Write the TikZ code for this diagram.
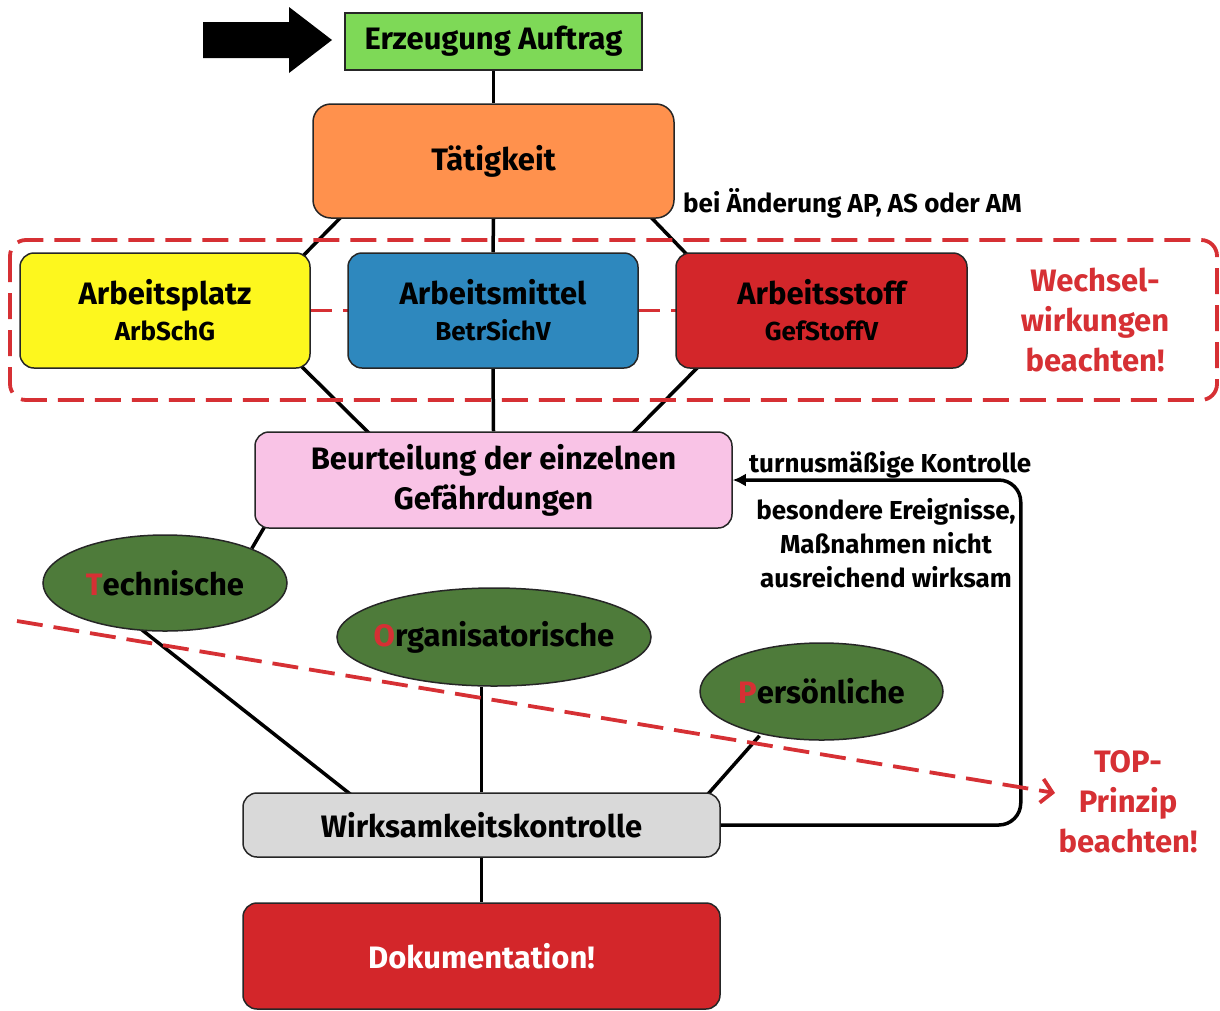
\documentclass[tikz,border=0pt]{standalone}
\usepackage{fontspec}
\setmainfont{Fira Sans}
\usetikzlibrary{shapes.geometric,arrows.meta,calc,backgrounds}
\definecolor{cgreen}{HTML}{7ED957}
\definecolor{corange}{HTML}{FF914D}
\definecolor{cyellow}{HTML}{FDF71E}
\definecolor{cblue}{HTML}{2E88BE}
\definecolor{cred}{HTML}{D3262A}
\definecolor{cpink}{HTML}{F9C3E6}
\definecolor{cdgreen}{HTML}{4E7B3A}
\definecolor{cgrey}{HTML}{D9D9D9}
\definecolor{tred}{HTML}{D63034}
\newcommand{\fsA}{\fontsize{31}{40}\selectfont\bfseries}
\newcommand{\fsB}{\fontsize{26}{34}\selectfont\bfseries}
\newcommand{\ovaltext}[2]{\makebox[0pt][c]{{\color{tred}#1}#2}}
\tikzset{
  box/.style={draw=black!85, line width=1.5pt, rounded corners=14pt, inner sep=0pt, align=center, font=\fsA},
  oval/.style={ellipse, draw=black!85, line width=1.5pt, fill=cdgreen, inner sep=0pt, font=\fsA},
  conn/.style={line width=3.5pt, black},
  reddash/.style={draw=tred, line width=3.8pt, dash pattern=on 26pt off 11pt},
  lbl/.style={font=\fsB, align=center, inner sep=0pt},
  redlbl/.style={font=\fsA, text=tred, align=center, inner sep=0pt}
}
\begin{document}
\begin{tikzpicture}[x=1pt,y=-1pt]
\useasboundingbox (0,0) rectangle (1220,1010);
% big arrow
\fill[black] (203,22) -- (289,22) -- (289,7) -- (332,40) -- (289,73) -- (289,58) -- (203,58) -- cycle;
% nodes
\node[box, rounded corners=0pt, fill=cgreen, minimum width=297pt, minimum height=57pt] (ea) at (493.5,41.5) {Erzeugung Auftrag};
\node[box, rounded corners=18pt, fill=corange, minimum width=361pt, minimum height=114pt] (t) at (493.5,161) {Tätigkeit};
\node[box, fill=cyellow, minimum width=290pt, minimum height=115pt] (ap) at (165,310.5) {Arbeitsplatz\\[-4pt]{\fsB ArbSchG}};
\node[box, fill=cblue, minimum width=290pt, minimum height=115pt] (am) at (493,310.5) {Arbeitsmittel\\[-4pt]{\fsB BetrSichV}};
\node[box, fill=cred, minimum width=291pt, minimum height=115pt] (as) at (821.5,310.5) {Arbeitsstoff\\[-4pt]{\fsB GefStoffV}};
\node[box, fill=cpink, minimum width=477pt, minimum height=96pt] (bf) at (493.5,480) {Beurteilung der einzelnen\\Gefährdungen};
\node[oval, minimum width=244pt, minimum height=96pt] (tech) at (165,583) {\ovaltext{T}{echnische}};
\node[oval, minimum width=314pt, minimum height=98pt] (org) at (494,637) {\ovaltext{O}{rganisatorische}};
\node[oval, minimum width=243pt, minimum height=97pt] (pers) at (821.5,691.5) {\ovaltext{P}{ersönliche}};
\node[box, fill=cgrey, minimum width=477pt, minimum height=64pt] (wk) at (481.5,825) {Wirksamkeitskontrolle};
\node[box, fill=cred, text=white, minimum width=477pt, minimum height=106pt] (doc) at (481.5,956) {Dokumentation!};
% labels
\node[lbl, anchor=west] (lab1) at (683,203) {bei Änderung AP, AS oder AM};
\node[lbl, anchor=west] (lab2) at (749,465) {turnusmäßige Kontrolle};
\node[lbl] (lab3) at (886,543) {besondere Ereignisse,\\Maßnahmen nicht\\ausreichend wirksam};
\node[redlbl] (lab4) at (1095,320) {Wechsel-\\wirkungen\\beachten!};
\node[redlbl] (lab5) at (1128,802) {TOP-\\Prinzip\\beachten!};
% connectors (behind nodes)
\begin{scope}[on background layer]
\draw[conn] (ea.south) -- (t.north);
\draw[conn] ($(t.south west)+(37,-10)$) -- ($(ap.north east)+(-15,11)$);
\draw[conn] (t.south) -- (am.north);
\draw[conn] ($(t.south east)+(-32,-10)$) -- ($(as.north west)+(22,13)$);
\draw[conn] ($(ap.south east)+(-17,-10)$) -- ($(bf.north west)+(123,10)$);
\draw[conn] (am.south) -- (bf.north);
\draw[conn] ($(as.south west)+(31,-10)$) -- ($(bf.north east)+(-108,10)$);
\draw[conn] ($(bf.south west)+(15,-10)$) -- (tech.north east);
\draw[conn] ($(tech.south)+(-27,-5)$) -- ($(wk.north west)+(112,5)$);
\draw[conn] (wk.north) -- (wk.north |- org.south);
\draw[conn] ($(pers.south)+(-62,-5)$) -- ($(wk.north east)+(-20,10)$);
\draw[conn] (wk.south) -- (doc.north);
\draw[reddash] ($(ap.east)+(-5,0)$) -- ($(am.west)+(5,0)$);
\draw[reddash] ($(am.east)+(-5,0)$) -- ($(as.west)+(5,0)$);
\end{scope}
% Wechselwirkungen frame
\draw[reddash, rounded corners=16pt] (10,240) rectangle (1217,400);
% feedback loop
\draw[line width=3.5pt, rounded corners=22pt, -{Latex[length=13pt,width=13pt]}] (wk.east) -| ($(bf.east)+(288,0)$) -- (bf.east);
% TOP line
\coordinate (topA) at (17,621);
\coordinate (topB) at (1055,793);
\draw[reddash, -{Straight Barb[length=11pt,width=24pt,line width=3.8pt]}] (topA) -- (topB);
\end{tikzpicture}
\end{document}
